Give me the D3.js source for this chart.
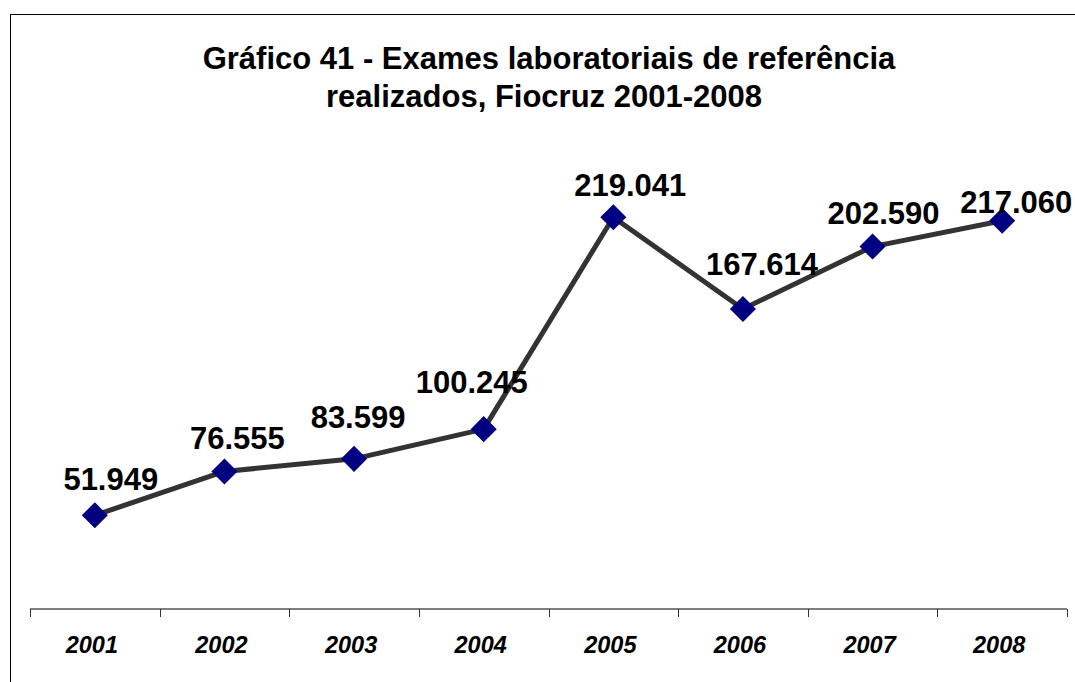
<!DOCTYPE html>
<html>
<head>
<meta charset="utf-8">
<script src="https://cdn.jsdelivr.net/npm/d3@7"></script>
<style>
  html, body { margin: 0; padding: 0; background: #fff; }
  svg { display: block; }
  text { font-family: "Liberation Sans", Arial, Helvetica, sans-serif; }
</style>
</head>
<body>
<svg id="chart" width="1075" height="682"></svg>
<script>
// Exames laboratoriais de referência realizados por ano
const years = ["2001", "2002", "2003", "2004", "2005", "2006", "2007", "2008"];
const exams = [51949, 76555, 83599, 100245, 219041, 167614, 202590, 217060];
const titleLines = ["Gráfico 41 - Exames laboratoriais de referência", "realizados, Fiocruz 2001-2008"];

// hand-placed nudges for the value labels (dx, dy from the marker)
const labelNudge = [[16, -25], [13, -22], [4, -31], [-12, -36], [17, -21], [19, -34], [11, -23], [14, -8]];

const svg = d3.select("#chart");

// chart frame
svg.append("rect")
  .attr("x", 10.5).attr("y", 14.5)
  .attr("width", 1100).attr("height", 700)
  .attr("fill", "#fff").attr("stroke", "#000").attr("stroke-width", 1);

// title
svg.append("text")
  .attr("text-anchor", "middle")
  .attr("font-size", 31).attr("font-weight", "bold").attr("fill", "#000")
  .selectAll("tspan").data(titleLines).join("tspan")
  .attr("x", (d, i) => i === 0 ? 549 : 544)
  .attr("y", (d, i) => 69 + i * 38)
  .text(d => d);

const plotLeft = 30, plotRight = 1067, axisY = 609;

const x = d3.scaleBand().domain(years).range([plotLeft, plotRight]).paddingInner(0).paddingOuter(0);
const y = d3.scaleLinear().domain([0, 250000]).range([608, 162]);

// category axis
const axisG = svg.append("g").attr("transform", `translate(0,${axisY})`);
axisG.append("line")
  .attr("x1", plotLeft).attr("x2", plotRight)
  .attr("stroke", "#7f7f7f").attr("stroke-width", 2);
const tickPos = years.map(d => x(d)).concat([plotRight]);
axisG.selectAll("line.tick").data(tickPos).join("line")
  .attr("class", "tick")
  .attr("x1", d => Math.round(d) + 0.5).attr("x2", d => Math.round(d) + 0.5)
  .attr("y1", 0).attr("y2", 8)
  .attr("stroke", "#333").attr("stroke-width", 1);
axisG.selectAll("text").data(years).join("text")
  .attr("x", d => x(d) + x.bandwidth() / 2 - 3)
  .attr("y", 44)
  .attr("text-anchor", "middle")
  .attr("font-size", 23.5).attr("font-weight", "bold").attr("font-style", "italic")
  .attr("fill", "#000")
  .text(d => d);

const cx = i => x(years[i]) + x.bandwidth() / 2;

// series line
const line = d3.line().x((d, i) => cx(i)).y(d => y(d));
svg.append("path")
  .datum(exams)
  .attr("d", line)
  .attr("fill", "none")
  .attr("stroke", "#333333")
  .attr("stroke-width", 5)
  .attr("stroke-linejoin", "round");

// diamond markers
const diamond = d3.symbol().type(d3.symbolSquare).size(340);
svg.selectAll("path.marker").data(exams).join("path")
  .attr("class", "marker")
  .attr("d", diamond)
  .attr("transform", (d, i) => `translate(${cx(i)},${y(d)}) rotate(45)`)
  .attr("fill", "#000080");

// value labels
const fmt = v => d3.format(",")(v).replace(/,/g, ".");
svg.selectAll("text.value").data(exams).join("text")
  .attr("class", "value")
  .attr("x", (d, i) => cx(i) + labelNudge[i][0])
  .attr("y", (d, i) => y(d) + labelNudge[i][1])
  .attr("text-anchor", "middle")
  .attr("font-size", 31).attr("font-weight", "bold").attr("fill", "#000")
  .text(d => fmt(d));
</script>
</body>
</html>
